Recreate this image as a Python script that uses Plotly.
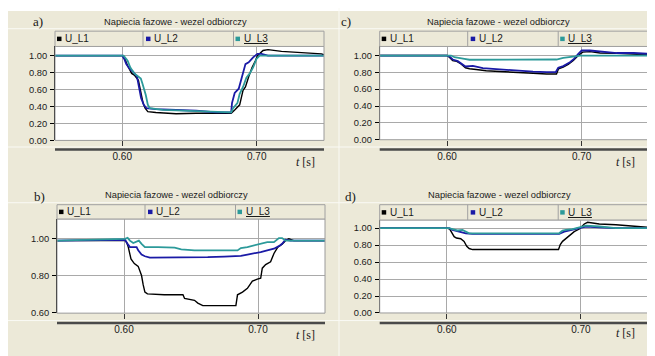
import plotly.graph_objects as go

# ---------------- data ----------------
SERIES_NAMES = ["U_L1", "U_L2", "U_L3"]
PANEL_TITLE = "Napiecia fazowe - wezel odbiorczy"
PANEL_LABELS = ["a)", "b)", "c)", "d)"]
X_TICKS = [0.60, 0.70]
X_TICK_TEXT = ["0.60", "0.70"]
Y_TICKS_FULL = [0.0, 0.2, 0.4, 0.6, 0.8, 1.0]
Y_TICKS_B = [0.6, 0.8, 1.0]

# panel a
a_t_L1 = [0.55, 0.600, 0.602, 0.604, 0.607, 0.609, 0.612, 0.614, 0.6155, 0.617, 0.619, 0.625, 0.64, 0.655, 0.67,
          0.681, 0.6836, 0.6873, 0.6898, 0.6916, 0.694, 0.6965, 0.699, 0.7005, 0.7047, 0.7084, 0.7184, 0.7308, 0.7481, 0.75]
a_L1 = [1.00, 1.00, 0.96, 0.88, 0.79, 0.77, 0.71, 0.57, 0.44, 0.38, 0.34, 0.33, 0.315, 0.32, 0.315,
        0.32, 0.36, 0.42, 0.59, 0.63, 0.75, 0.86, 0.94, 1.00, 1.06, 1.07, 1.05, 1.04, 1.02, 1.01]
a_t_L2 = [0.55, 0.600, 0.6015, 0.603, 0.6057, 0.608, 0.611, 0.6123, 0.614, 0.616, 0.618, 0.625, 0.64, 0.655, 0.67,
          0.681, 0.6816, 0.6836, 0.6866, 0.6886, 0.6916, 0.694, 0.6973, 0.7005, 0.7035, 0.7084, 0.72, 0.75]
a_L2 = [1.00, 1.00, 0.96, 0.90, 0.84, 0.81, 0.75, 0.63, 0.50, 0.42, 0.38, 0.37, 0.36, 0.35, 0.33,
        0.33, 0.44, 0.56, 0.61, 0.73, 0.90, 0.92, 0.98, 1.02, 1.02, 1.00, 1.00, 1.00]
a_t_L3 = [0.55, 0.601, 0.604, 0.606, 0.609, 0.612, 0.6138, 0.615, 0.6175, 0.619, 0.6205, 0.63, 0.645, 0.66, 0.675,
          0.681, 0.6824, 0.6856, 0.6873, 0.6898, 0.6923, 0.6948, 0.6973, 0.6998, 0.7022, 0.71, 0.75]
a_L3 = [1.00, 1.00, 0.94, 0.86, 0.79, 0.75, 0.73, 0.67, 0.535, 0.42, 0.38, 0.36, 0.35, 0.34, 0.33,
        0.33, 0.38, 0.44, 0.55, 0.63, 0.74, 0.79, 0.86, 0.96, 1.00, 1.00, 1.00]

# panel b
b_t_L1 = [0.55, 0.601, 0.602, 0.6032, 0.6052, 0.6077, 0.6106, 0.6131, 0.6143, 0.6156, 0.6175, 0.630, 0.644, 0.6452,
          0.6526, 0.6551, 0.6588, 0.670, 0.6835, 0.6847, 0.6884, 0.6921, 0.6958, 0.6995, 0.702, 0.7032, 0.7057,
          0.7094, 0.7119, 0.7148, 0.718, 0.7205, 0.723, 0.7267, 0.75]
b_L1 = [0.99, 0.99, 0.98, 0.955, 0.89, 0.865, 0.85, 0.80, 0.75, 0.71, 0.70, 0.695, 0.695, 0.675,
        0.665, 0.65, 0.636, 0.635, 0.636, 0.695, 0.71, 0.73, 0.77, 0.78, 0.785, 0.84, 0.86,
        0.875, 0.92, 0.955, 0.97, 0.99, 1.00, 0.99, 0.99]
b_t_L2 = [0.55, 0.6007, 0.6032, 0.6044, 0.6094, 0.6106, 0.6131, 0.6156, 0.6193, 0.6501, 0.6625, 0.6748, 0.6872,
          0.6921, 0.697, 0.702, 0.7069, 0.7119, 0.7156, 0.718, 0.7205, 0.7242, 0.75]
b_L2 = [0.99, 0.995, 0.967, 0.955, 0.955, 0.937, 0.914, 0.905, 0.898, 0.898, 0.90, 0.903, 0.907,
        0.914, 0.92, 0.928, 0.937, 0.946, 0.96, 0.973, 0.995, 0.99, 0.99]
b_t_L3 = [0.55, 0.6007, 0.6027, 0.6044, 0.6069, 0.6094, 0.6111, 0.6131, 0.6156, 0.6254, 0.6378, 0.6427, 0.6526,
          0.6847, 0.6872, 0.6921, 0.697, 0.702, 0.7069, 0.7119, 0.7156, 0.718, 0.7205, 0.7242, 0.75]
b_L3 = [0.99, 1.00, 1.005, 0.99, 0.977, 0.987, 0.99, 0.973, 0.955, 0.955, 0.952, 0.943, 0.937,
        0.937, 0.95, 0.955, 0.964, 0.973, 0.982, 0.982, 1.004, 1.004, 0.99, 0.99, 0.99]

# panel c
c_t_L1 = [0.55, 0.600, 0.6017, 0.6042, 0.6072, 0.6104, 0.6137, 0.6167, 0.6216, 0.6291, 0.6391, 0.6515, 0.6639,
          0.6739, 0.6813, 0.6828, 0.6863, 0.69, 0.6938, 0.6975, 0.7007, 0.7062, 0.7137, 0.7261, 0.7386, 0.75]
c_L1 = [1.00, 1.00, 0.98, 0.94, 0.93, 0.90, 0.855, 0.843, 0.835, 0.82, 0.81, 0.796, 0.79,
        0.78, 0.78, 0.843, 0.863, 0.894, 0.94, 1.00, 1.04, 1.047, 1.03, 1.027, 1.02, 1.008]
c_t_L2 = [0.55, 0.600, 0.6017, 0.6042, 0.608, 0.6112, 0.6137, 0.6192, 0.6266, 0.6391, 0.6515, 0.6639, 0.6739,
          0.6808, 0.6826, 0.6863, 0.6913, 0.6943, 0.6975, 0.700, 0.7062, 0.7137, 0.7261, 0.7386, 0.75]
c_L2 = [1.00, 1.00, 0.99, 0.953, 0.933, 0.90, 0.87, 0.878, 0.85, 0.835, 0.82, 0.81, 0.804,
        0.804, 0.855, 0.875, 0.92, 0.96, 1.02, 1.06, 1.06, 1.047, 1.03, 1.03, 1.02]
c_t_L3 = [0.55, 0.603, 0.6055, 0.6092, 0.6129, 0.6167, 0.6391, 0.6639, 0.6813, 0.6863, 0.6913, 0.695, 0.6988, 0.75]
c_L3 = [1.00, 1.00, 0.98, 0.973, 0.96, 0.95, 0.95, 0.95, 0.953, 0.973, 0.98, 0.99, 1.00, 1.00]

# panel d
d_t_L1 = [0.55, 0.600, 0.6022, 0.6037, 0.6055, 0.6072, 0.6104, 0.6129, 0.6149, 0.6167, 0.6192, 0.6833, 0.6846,
          0.6863, 0.6888, 0.6918, 0.695, 0.6988, 0.7025, 0.705, 0.7137, 0.7261, 0.7386, 0.75]
d_L1 = [1.00, 1.00, 0.99, 0.94, 0.90, 0.884, 0.876, 0.845, 0.787, 0.76, 0.748, 0.748, 0.806,
        0.845, 0.876, 0.91, 0.96, 0.99, 1.05, 1.07, 1.05, 1.04, 1.02, 1.01]
d_t_L2 = [0.55, 0.6017, 0.6042, 0.6092, 0.6142, 0.6192, 0.6838, 0.6876, 0.6925, 0.6975, 0.7037, 0.7137, 0.7261, 0.75]
d_L2 = [1.00, 1.00, 0.98, 0.96, 0.94, 0.934, 0.934, 0.96, 0.98, 1.00, 1.02, 1.01, 1.00, 1.00]
d_t_L3 = [0.55, 0.6017, 0.6042, 0.608, 0.6117, 0.6142, 0.6167, 0.6838, 0.6863, 0.6888, 0.6938, 0.6988, 0.7037,
          0.7137, 0.7261, 0.75]
d_L3 = [1.00, 1.00, 0.99, 0.973, 0.98, 0.96, 0.94, 0.94, 0.973, 0.98, 0.99, 1.01, 1.03, 1.02, 1.00, 1.00]

PANEL_DATA = [
    [(a_t_L1, a_L1), (a_t_L2, a_L2), (a_t_L3, a_L3)],
    [(b_t_L1, b_L1), (b_t_L2, b_L2), (b_t_L3, b_L3)],
    [(c_t_L1, c_L1), (c_t_L2, c_L2), (c_t_L3, c_L3)],
    [(d_t_L1, d_L1), (d_t_L2, d_L2), (d_t_L3, d_L3)],
]

# ---------------- styling / layout ----------------
W, H = 655, 356
BG = "#ECE9D8"
GRID = "#A9A9A9"
COLORS = ["#000000", "#1A1AA6", "#2C9A9A"]
WIDTHS = [1.4, 1.8, 1.8]
SANS = "Liberation Sans, Arial, sans-serif"
SERIF = "Liberation Serif, Times New Roman, serif"


def px(x):
    return x / W


def py(y):
    return 1 - y / H


# geometry of each panel in pixels: plot left/right, plot top/bottom, y range, etc.
GEOM = [
    dict(x0=47, x1=316, top=39, bot=134.3, yr=[0, 1.108], yt=Y_TICKS_FULL, lab=(30, 14), tit=(167, 14),
         leg=23.5, axl=143.5, ts=(297.5, 156)),
    dict(x0=49, x1=317, top=214, bot=309.5, yr=[0.595, 1.108], yt=Y_TICKS_B, lab=(31, 191), tit=(168, 190),
         leg=199.5, axl=319.5, ts=(297, 332)),
    dict(x0=371.7, x1=641, top=39, bot=133.6, yr=[0, 1.108], yt=Y_TICKS_FULL, lab=(338, 14), tit=(490, 14),
         leg=23.5, axl=143.5, ts=(617, 156)),
    dict(x0=371.7, x1=640, top=215, bot=309.3, yr=[0, 1.097], yt=Y_TICKS_FULL, lab=(342, 191), tit=(491, 190),
         leg=199.5, axl=319.5, ts=(617, 330)),
]

fig = go.Figure()
shapes = []
annotations = []
layout = dict(
    width=W, height=H, autosize=False,
    margin=dict(l=0, r=0, t=0, b=0, pad=0),
    paper_bgcolor=BG, plot_bgcolor="white",
    showlegend=False,
    font=dict(family=SANS, size=10, color="#1a1a1a"),
)

# global separators (white lines of the widget frame)
shapes.append(dict(type="rect", xref="paper", yref="paper", x0=0, x1=1, y0=py(3), y1=1,
                   fillcolor="white", line=dict(width=0), layer="below"))
for yline in (21, 197.5, 141, 317):
    shapes.append(dict(type="line", xref="paper", yref="paper", x0=0, x1=1, y0=py(yline), y1=py(yline),
                       line=dict(color="#FAFAF5", width=1), layer="below"))
shapes.append(dict(type="line", xref="paper", yref="paper", x0=px(331), x1=px(331), y0=0, y1=1,
                   line=dict(color="#FAFAF5", width=1), layer="below"))

for i, g in enumerate(GEOM):
    sfx = "" if i == 0 else str(i + 1)
    xa, ya = "x" + sfx, "y" + sfx
    for k, (t, v) in enumerate(PANEL_DATA[i]):
        fig.add_trace(go.Scatter(x=t, y=v, mode="lines", name=SERIES_NAMES[k],
                                 line=dict(color=COLORS[k], width=WIDTHS[k]),
                                 xaxis=xa, yaxis=ya, hoverinfo="skip"))
    layout["xaxis" + sfx] = dict(
        domain=[px(g["x0"]), px(g["x1"])], anchor=ya, range=[0.55, 0.75],
        tickvals=X_TICKS, ticktext=X_TICK_TEXT, showgrid=True, gridcolor=GRID, gridwidth=1,
        zeroline=False, showline=False, ticks="outside", ticklen=5, tickcolor="#333333",
        tickwidth=1, ticklabelstandoff=2, tickfont=dict(family=SANS, size=10, color="#1a1a1a"),
        fixedrange=True,
    )
    layout["yaxis" + sfx] = dict(
        domain=[py(g["bot"]), py(g["top"])], anchor=xa, range=g["yr"],
        tickvals=g["yt"], tickformat=".2f", showgrid=True, gridcolor=GRID, gridwidth=1,
        zeroline=False, showline=True, linecolor="#000000", linewidth=1, mirror=False,
        ticks="outside", ticklen=4, tickcolor="#000000", ticklabelstandoff=1,
        tickfont=dict(family=SANS, size=9.3, color="#1a1a1a"), fixedrange=True,
    )
    # plot frame (gray)
    shapes.append(dict(type="rect", xref="paper", yref="paper",
                       x0=px(g["x0"]), x1=px(g["x1"]), y0=py(g["bot"]), y1=py(g["top"]),
                       line=dict(color="#9A9A9A", width=1), layer="above"))
    # thick x-axis bar
    shapes.append(dict(type="line", xref="paper", yref="paper",
                       x0=px(g["x0"]), x1=px(g["x1"]), y0=py(g["axl"]), y1=py(g["axl"]),
                       line=dict(color="#4A4A4A", width=2.5)))
    # legend strip
    shapes.append(dict(type="rect", xref="paper", yref="paper",
                       x0=px(g["x0"]), x1=px(g["x1"]), y0=py(g["top"]), y1=py(g["leg"]),
                       fillcolor=BG, line=dict(color="#A0A0A0", width=1)))
    divs = [g["x0"] + 88, g["x0"] + 178.5]
    for d in divs:
        shapes.append(dict(type="line", xref="paper", yref="paper", x0=px(d), x1=px(d),
                           y0=py(g["top"]), y1=py(g["leg"]), line=dict(color="#A0A0A0", width=1)))
    ly = (g["top"] + g["leg"]) / 2
    starts = [g["x0"] + 2, divs[0] + 3, divs[1] + 2]
    for k, sx in enumerate(starts):
        shapes.append(dict(type="rect", xref="paper", yref="paper",
                           x0=px(sx), x1=px(sx + 4.5), y0=py(ly + 2.3), y1=py(ly - 2.2),
                           fillcolor=COLORS[k], line=dict(width=0)))
        txt = SERIES_NAMES[k] if k < 2 else "<u>" + SERIES_NAMES[k] + "</u>"
        annotations.append(dict(xref="paper", yref="paper", x=px(sx + 6), y=py(ly),
                                xanchor="left", yanchor="middle", showarrow=False, text=txt,
                                font=dict(family=SANS, size=10, color="#1a1a1a")))
    # title, panel label, axis unit
    annotations.append(dict(xref="paper", yref="paper", x=px(g["tit"][0]), y=py(g["tit"][1]),
                            xanchor="center", yanchor="middle", showarrow=False, text=PANEL_TITLE,
                            font=dict(family=SANS, size=9.3, color="#1a1a1a")))
    annotations.append(dict(xref="paper", yref="paper", x=px(g["lab"][0]), y=py(g["lab"][1]),
                            xanchor="center", yanchor="middle", showarrow=False, text=PANEL_LABELS[i],
                            font=dict(family=SERIF, size=13, color="#1a1a1a")))
    annotations.append(dict(xref="paper", yref="paper", x=px(g["ts"][0]), y=py(g["ts"][1]),
                            xanchor="center", yanchor="middle", showarrow=False, text="<i>t</i> [s]",
                            font=dict(family=SERIF, size=12, color="#1a1a1a")))

layout["shapes"] = shapes
layout["annotations"] = annotations
fig.update_layout(**layout)
fig.write_html("out.html")
